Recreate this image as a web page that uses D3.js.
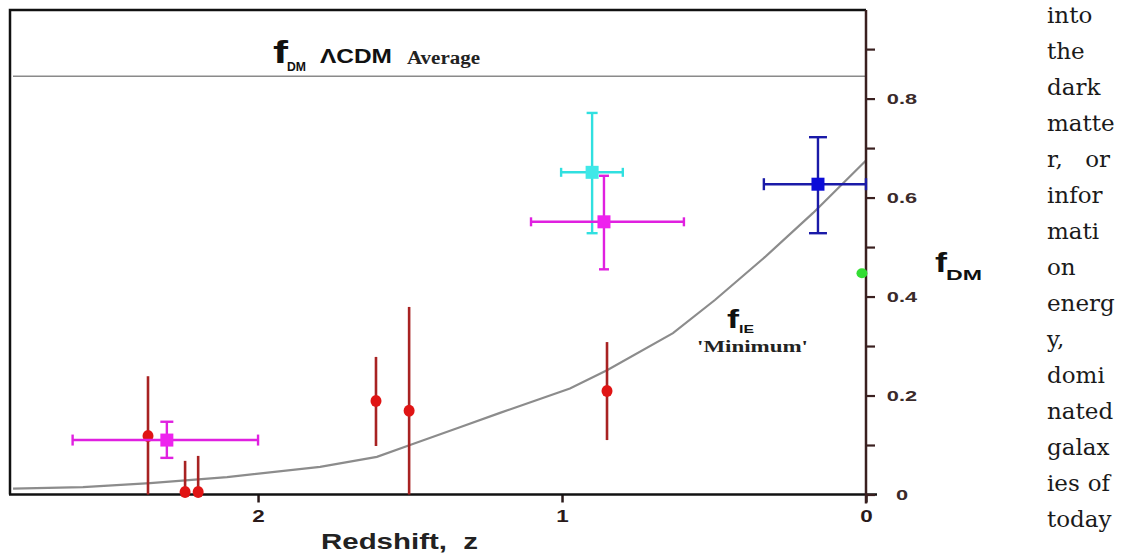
<!DOCTYPE html>
<html>
<head>
<meta charset="utf-8">
<script src="https://cdn.jsdelivr.net/npm/d3@7"></script>
<style>
  body { margin: 0; background: #fff; }
  svg { display: block; }
  text { white-space: pre; }
</style>
</head>
<body>
<svg width="1125" height="556"></svg>
<script>
// f_IE 'minimum' curve
var curveZ = [2.806, 2.576, 2.355, 2.102, 1.796, 1.609, 1.5, 1.336, 1.204, 0.974, 0.852, 0.635, 0.497, 0.332, 0.174, 0];
var curveF = [0.012, 0.015, 0.023, 0.035, 0.056, 0.076, 0.10, 0.136, 0.165, 0.214, 0.251, 0.326, 0.393, 0.48, 0.569, 0.675];

// red points with vertical error bars
var redZ  = [2.362, 2.24, 2.197, 1.612, 1.503, 0.852];
var redF  = [0.118, 0.005, 0.005, 0.189, 0.169, 0.209];
var redLo = [0, 0, 0, 0.098, 0, 0.110];
var redHi = [0.239, 0.068, 0.078, 0.278, 0.379, 0.308];

// square points with both error bars
var sqZ   = [2.30, 0.901, 0.862, 0.158];
var sqF   = [0.110, 0.651, 0.551, 0.627];
var sqZlo = [2.61, 1.003, 1.102, 0.336];
var sqZhi = [2.0, 0.80, 0.599, 0];
var sqFlo = [0.074, 0.528, 0.455, 0.528];
var sqFhi = [0.147, 0.771, 0.644, 0.722];

// single green point at z ~ 0
var greenZ = [0.01];
var greenF = [0.447];

var lcdmAvg = 0.845;

var xTicks = [2, 1, 0];
var yTicks = [0, 0.1, 0.2, 0.3, 0.4, 0.5, 0.6, 0.7, 0.8, 0.9];

var textLines = ['into', 'the', 'dark', 'matte', 'r, or', 'infor', 'mati', 'on',
                 'energ', 'y,', 'domi', 'nated', 'galax', 'ies of', 'today'];

// styles
var sqColors  = ['#e020e0', '#30e0e0', '#e020e0', '#1a1aa8'];
var sqFill    = ['#ee22ee', '#40e8e8', '#ee22ee', '#0c0cd8'];
var capW      = [13, 11, 10, 18];   // cap width on the vertical bars
var capH      = [11, 9, 9, 12];     // cap height on the horizontal bars
var sans = '"Liberation Sans", Arial, sans-serif';
var serif = '"Liberation Serif", "Times New Roman", serif';

var svg = d3.select('svg');

var x = d3.scaleLinear().domain([2.816, 0]).range([10, 866]);
var y = d3.scaleLinear().domain([0, 0.979]).range([494.5, 10]);

// stretch text horizontally, the picture is wider than normal glyphs
var stretch = function(sel, k){
	sel.each(function(){
		var w = this.getComputedTextLength();
		d3.select(this).attr('textLength', w*k).attr('lengthAdjust', 'spacingAndGlyphs');
	});
};

// plain label helper
var label = function(txt, px, py, font, size, len, fill){
	return svg.append('text').attr('x', px).attr('y', py)
		.attr('font-family', font).attr('font-weight', 'bold').attr('font-size', size)
		.attr('textLength', len).attr('lengthAdjust', 'spacingAndGlyphs')
		.attr('fill', fill || '#111').text(txt);
};

// LCDM average line
svg.append('line')
	.attr('x1', 13).attr('x2', x(0))
	.attr('y1', y(lcdmAvg)).attr('y2', y(lcdmAvg))
	.attr('stroke', '#8a8a8a').attr('stroke-width', 1.6);

// f_IE curve
var line = d3.line().x(function(d){ return x(d[0]); }).y(function(d){ return y(d[1]); });
svg.append('path')
	.datum(d3.zip(curveZ, curveF))
	.attr('d', line)
	.attr('fill', 'none')
	.attr('stroke', '#8c8c8c')
	.attr('stroke-width', 2.2);

// frame: left and top borders
svg.append('path')
	.attr('d', 'M' + x(2.816) + ',' + y(0) + 'V' + y(0.979) + 'H' + x(0))
	.attr('fill', 'none').attr('stroke', '#111').attr('stroke-width', 2.5);

// bottom axis
var xAxis = svg.append('g')
	.attr('transform', 'translate(0,' + y(0) + ')')
	.call(d3.axisBottom(x).tickValues(xTicks).tickSize(8).tickPadding(7).tickFormat(d3.format('d')));
xAxis.select('.domain').remove();
xAxis.selectAll('line').attr('stroke', '#2a1a1a').attr('stroke-width', 2.5);
xAxis.selectAll('text')
	.attr('font-family', sans).attr('font-weight', 'bold').attr('font-size', 16)
	.attr('fill', '#2a1a1a').attr('dy', '0.75em')
	.call(stretch, 1.4);
svg.append('line')
	.attr('x1', 9).attr('x2', 877)
	.attr('y1', y(0)).attr('y2', y(0))
	.attr('stroke', '#111').attr('stroke-width', 2.5);

// right axis
var yAxis = svg.append('g')
	.attr('transform', 'translate(' + x(0) + ',0)')
	.call(d3.axisRight(y).tickValues(yTicks).tickSize(9)
		.tickFormat(function(d, i){ return i % 2 ? '' : (d === 0 ? '0' : d3.format('.1f')(d)); }));
yAxis.select('.domain').remove();
yAxis.selectAll('line').attr('stroke', '#3a2020').attr('stroke-width', 2.2);
yAxis.selectAll('text')
	.attr('x', 36).attr('text-anchor', 'middle')
	.attr('font-family', sans).attr('font-weight', 'bold').attr('font-size', 15)
	.attr('fill', '#3a2a2a')
	.call(stretch, 1.45);
svg.append('line')
	.attr('x1', x(0)).attr('x2', x(0))
	.attr('y1', y(0.979)).attr('y2', y(0) + 9)
	.attr('stroke', '#3a2020').attr('stroke-width', 2.5);

// red points
var reds = svg.append('g');
redZ.forEach(function(z, i){
	reds.append('line')
		.attr('x1', x(z)).attr('x2', x(z))
		.attr('y1', y(redLo[i])).attr('y2', y(redHi[i]))
		.attr('stroke', '#a82222').attr('stroke-width', 2.6);
	reds.append('ellipse')
		.attr('cx', x(z)).attr('cy', y(redF[i]))
		.attr('rx', 5.5).attr('ry', 6)
		.attr('fill', '#e01414');
});

// square points
var sq = svg.append('g');
sqZ.forEach(function(z, i){
	var g = sq.append('g').attr('stroke', sqColors[i]).attr('stroke-width', 2.4);
	var cx = x(z), cy = y(sqF[i]);
	var xl = x(sqZlo[i]), xr = x(sqZhi[i]), yt = y(sqFhi[i]), yb = y(sqFlo[i]);
	g.append('line').attr('x1', xl).attr('x2', xr).attr('y1', cy).attr('y2', cy);
	g.append('line').attr('x1', cx).attr('x2', cx).attr('y1', yt).attr('y2', yb);
	g.append('line').attr('x1', xl).attr('x2', xl).attr('y1', cy - capH[i]/2).attr('y2', cy + capH[i]/2);
	g.append('line').attr('x1', xr).attr('x2', xr).attr('y1', cy - capH[i]/2).attr('y2', cy + capH[i]/2);
	g.append('line').attr('x1', cx - capW[i]/2).attr('x2', cx + capW[i]/2).attr('y1', yt).attr('y2', yt);
	g.append('line').attr('x1', cx - capW[i]/2).attr('x2', cx + capW[i]/2).attr('y1', yb).attr('y2', yb);
	g.append('rect')
		.attr('x', cx - 6.5).attr('y', cy - 6.5).attr('width', 13).attr('height', 13)
		.attr('fill', sqFill[i]).attr('stroke', 'none');
});

// green point
svg.append('ellipse')
	.attr('cx', x(greenZ[0]) - 1).attr('cy', y(greenF[0]))
	.attr('rx', 5.5).attr('ry', 5)
	.attr('fill', '#33dd33');

// top label: f_DM LCDM Average
label('f', 273, 63, sans, 32, 15);
label('DM', 287, 71, sans, 12, 19);
label('\u039BCDM', 320, 63, sans, 21, 72);
label('Average', 407, 64, serif, 18, 73, '#222');

// f_IE 'Minimum'
label('f', 727, 328, sans, 25, 12);
label('IE', 739, 333, sans, 11, 15);
label("'Minimum'", 697, 352, serif, 16, 111, '#222');

// right axis title f_DM
label('f', 935, 272, sans, 27, 12);
label('DM', 946, 280, sans, 15, 36);

// x axis title
label('Redshift,  z', 321, 549, sans, 22, 157, '#222');

// justified text column on the right
var col = svg.append('g').attr('font-family', '"DejaVu Serif", serif').attr('font-size', 23).attr('fill', '#1a1a1a');
textLines.forEach(function(t, i){
	var yy = 23 + i*36;
	var words = t.split(' ');
	if (words.length > 1) {
		col.append('text').attr('x', 1047).attr('y', yy).text(words[0]);
		col.append('text').attr('x', 1110).attr('y', yy).attr('text-anchor', 'end').text(words[words.length-1]);
	} else {
		col.append('text').attr('x', 1047).attr('y', yy).text(t);
	}
});
</script>
</body>
</html>
